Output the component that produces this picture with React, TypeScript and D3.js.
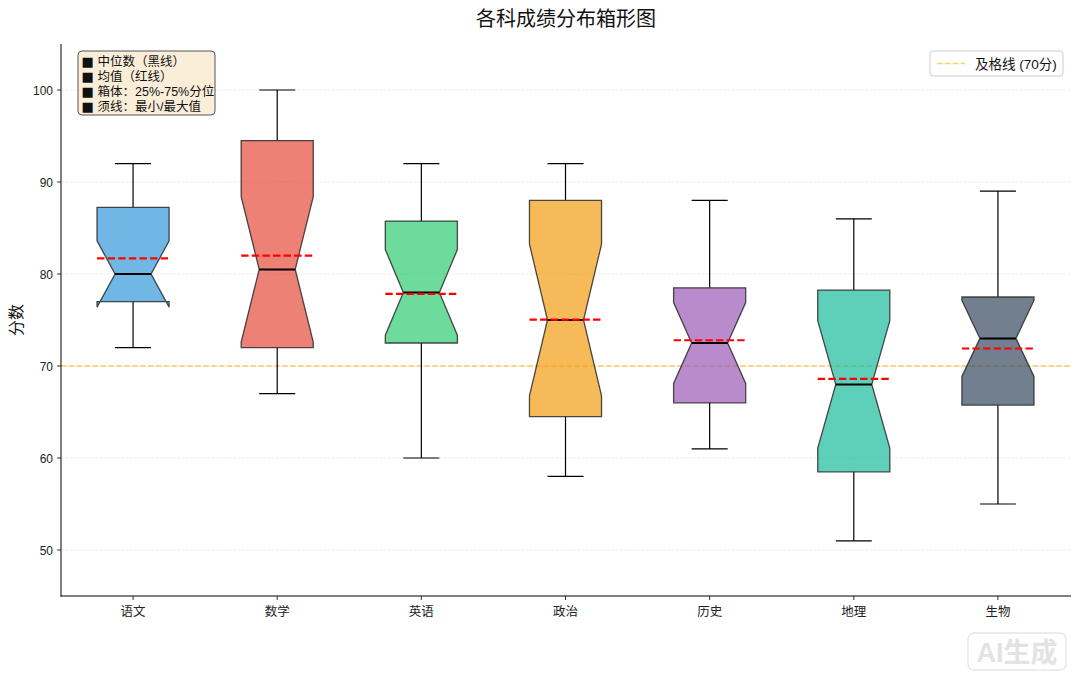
import React from "react";
import * as d3 from "d3";

const subjects = ["语文", "数学", "英语", "政治", "历史", "地理", "生物"];
const whiskerLow = [72, 67, 60, 58, 61, 51, 55];
const q1 = [77, 72, 72.5, 64.5, 66, 58.5, 65.75];
const medians = [80, 80.5, 78, 75, 72.5, 68, 73];
const q3 = [87.25, 94.5, 85.75, 88, 78.5, 78.25, 77.5];
const whiskerHigh = [92, 100, 92, 92, 88, 86, 89];
const means = [81.7, 82.0, 77.85, 75.05, 72.8, 68.6, 71.9];
const sampleSize = 20;
const colors = ["#3498db", "#e74c3c", "#2ecc71", "#f39c12", "#9b59b6", "#1abc9c", "#34495e"];
const yTicks = [50, 60, 70, 80, 90, 100];
const passScore = 70;
const legendLines = ["■ 中位数（黑线）", "■ 均值（红线）", "■ 箱体：25%-75%分位", "■ 须线：最小/最大值"];

const W = 1080;
const H = 677;
const FONT = "'Liberation Sans', 'Noto Sans CJK SC', 'DejaVu Sans', sans-serif";

export default function App() {
  const x = d3.scaleLinear().domain([0.5, 7.5]).range([61, 1070]);
  const y = d3.scaleLinear().domain([45, 105]).range([596, 44]);
  const boxHalf = 0.25;
  const capHalf = 0.125;

  const boxes = subjects.map((s, i) => {
    const pos = i + 1;
    const iqr = q3[i] - q1[i];
    const notch = (1.57 * iqr) / Math.sqrt(sampleSize);
    const nLo = medians[i] - notch;
    const nHi = medians[i] + notch;
    const bl = x(pos - boxHalf);
    const br = x(pos + boxHalf);
    const cl = x(pos - capHalf);
    const cr = x(pos + capHalf);
    const pts: [number, number][] = [
      [bl, y(q1[i])],
      [br, y(q1[i])],
      [br, y(nLo)],
      [cr, y(medians[i])],
      [br, y(nHi)],
      [br, y(q3[i])],
      [bl, y(q3[i])],
      [bl, y(nHi)],
      [cl, y(medians[i])],
      [bl, y(nLo)],
    ];
    const path = d3.line()(pts) + "Z";
    return { s, i, pos, path, bl, br, cl, cr };
  });

  return (
    <svg
      width={W}
      height={H}
      style={{ position: "absolute", left: 0, top: 0, background: "#fff" }}
      fontFamily={FONT}
    >
      <rect width={W} height={H} fill="#fff" />
      {/* title */}
      <text x={566} y={26} textAnchor="middle" fontSize={20} fill="#111">
        各科成绩分布箱形图
      </text>
      {/* grid */}
      {yTicks.map((t) => (
        <line
          key={"g" + t}
          x1={61}
          x2={1070}
          y1={y(t)}
          y2={y(t)}
          stroke="#b0b0b0"
          strokeOpacity={0.3}
          strokeWidth={0.8}
          strokeDasharray="3,1.3"
        />
      ))}
      {/* pass line */}
      <line
        x1={61}
        x2={1070}
        y1={y(passScore)}
        y2={y(passScore)}
        stroke="#ffa500"
        strokeOpacity={0.6}
        strokeWidth={1.5}
        strokeDasharray="5.5,2.4"
      />
      {/* boxes */}
      {boxes.map((b) => (
        <g key={b.s}>
          <line x1={x(b.pos)} x2={x(b.pos)} y1={y(q1[b.i])} y2={y(whiskerLow[b.i])} stroke="#000" strokeWidth={1.2} />
          <line x1={x(b.pos)} x2={x(b.pos)} y1={y(q3[b.i])} y2={y(whiskerHigh[b.i])} stroke="#000" strokeWidth={1.2} />
          <line x1={b.cl} x2={b.cr} y1={y(whiskerLow[b.i])} y2={y(whiskerLow[b.i])} stroke="#000" strokeWidth={1.2} />
          <line x1={b.cl} x2={b.cr} y1={y(whiskerHigh[b.i])} y2={y(whiskerHigh[b.i])} stroke="#000" strokeWidth={1.2} />
          <path d={b.path} fill={colors[b.i]} fillOpacity={0.7} stroke="#2c2c2c" strokeOpacity={0.85} strokeWidth={1.3} />
          <line x1={b.cl} x2={b.cr} y1={y(medians[b.i])} y2={y(medians[b.i])} stroke="#000" strokeWidth={2} />
          <line
            x1={b.bl}
            x2={b.br}
            y1={y(means[b.i])}
            y2={y(means[b.i])}
            stroke="#ff0000"
            strokeWidth={2.2}
            strokeDasharray="7.4,3.2"
          />
        </g>
      ))}
      {/* spines */}
      <line x1={61} x2={61} y1={44} y2={596.5} stroke="#000" strokeWidth={1} />
      <line x1={60.5} x2={1071} y1={596} y2={596} stroke="#000" strokeWidth={1} />
      {/* y ticks */}
      {yTicks.map((t) => (
        <g key={"yt" + t}>
          <line x1={57} x2={61} y1={y(t)} y2={y(t)} stroke="#000" strokeWidth={0.8} />
          <text x={53} y={y(t) + 4.5} textAnchor="end" fontSize={12} fill="#222">
            {t}
          </text>
        </g>
      ))}
      {/* x ticks */}
      {subjects.map((s, i) => (
        <g key={"xt" + s}>
          <line x1={x(i + 1)} x2={x(i + 1)} y1={596} y2={600} stroke="#000" strokeWidth={0.8} />
          <text x={x(i + 1)} y={616} textAnchor="middle" fontSize={12.5} fill="#222">
            {s}
          </text>
        </g>
      ))}
      {/* y label */}
      <text
        transform={`translate(22,${y(75)}) rotate(-90)`}
        textAnchor="middle"
        fontSize={16}
        fill="#111"
      >
        分数
      </text>
      {/* info box */}
      <rect x={78} y={51} width={137} height={64} rx={4} fill="#f5deb3" fillOpacity={0.5} stroke="#555" strokeWidth={1} />
      {legendLines.map((l, k) => (
        <g key={l}>
          <text x={81.5} y={66 + k * 15} fontSize={13} fill="#111" fontFamily="'DejaVu Sans', sans-serif">
            {l.slice(0, 1)}
          </text>
          <text x={97.5} y={66 + k * 15} fontSize={12.5} fill="#111">
            {l.slice(2)}
          </text>
        </g>
      ))}
      {/* pass legend */}
      <rect x={930} y={51} width={133} height={25} rx={3} fill="#fff" fillOpacity={0.8} stroke="#ccc" strokeWidth={1} />
      <line x1={937} x2={965} y1={63.5} y2={63.5} stroke="#ffa500" strokeOpacity={0.6} strokeWidth={1.5} strokeDasharray="5.5,2.4" />
      <text x={975} y={68.5} fontSize={13.5} fill="#111">
        及格线 (70分)
      </text>
      {/* watermark */}
      <rect x={968} y={633} width={98} height={37} rx={6} fill="none" stroke="#e6e6e6" strokeWidth={1.3} />
      <text x={1017} y={662} textAnchor="middle" fontSize={27} fontWeight="bold" fill="#e3e3e3">
        AI生成
      </text>
    </svg>
  );
}
